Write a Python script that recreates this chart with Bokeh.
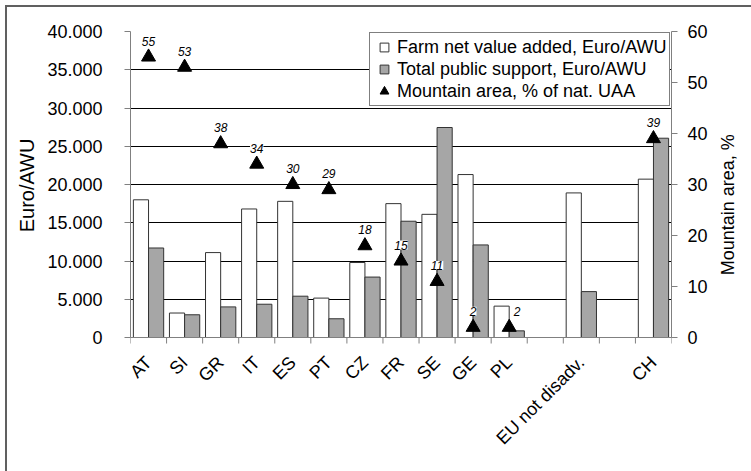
import math
from bokeh.plotting import figure
from bokeh.models import (ColumnDataSource, Range1d, LinearAxis, FixedTicker, Legend, LegendItem,
                          LabelSet, Span)
from bokeh.core.properties import value
from bokeh.transform import dodge
from bokeh.embed import file_html
from bokeh.resources import INLINE

# ---------------- data ----------------
categories = ["AT", "SI", "GR", "IT", "ES", "PT", "CZ", "FR", "SE", "GE", "PL", "",
              "EU not disadv.", "", "CH"]
farm_nva = [18000, 3200, 11100, 16800, 17800, 5150, 9800, 17500, 16100, 21300, 4100, None,
            18900, None, 20700]
public_support = [11700, 2970, 4000, 4350, 5400, 2450, 7900, 15200, 27450, 12100, 870, None,
                  6000, None, 26050]
mountain_share = [55, 53, 38, 34, 30, 29, 18, 15, 11, 2, 2, None, None, None, 39]

left_ticks = [0, 5000, 10000, 15000, 20000, 25000, 30000, 35000, 40000]
left_tick_labels = ["0", "5.000", "10.000", "15.000", "20.000", "25.000", "30.000", "35.000", "40.000"]
right_ticks = [0, 10, 20, 30, 40, 50, 60]

series_names = ["Farm net value added, Euro/AWU", "Total public support, Euro/AWU",
                "Mountain area, % of nat. UAA"]
left_title = "Euro/AWU"
right_title = "Mountain area, %"

# ---------------- styling / geometry ----------------
FONT = "Liberation Sans"
GREY_FILL = "#a6a6a6"
AXIS_GREY = "#808080"
EDGE = "#333333"
TXT = "black"
W, H = 751, 471
BORDER_L, BORDER_R, BORDER_T, BORDER_B = 130, 75, 31, 5
PLOT_PX = 306                      # height of the value area (0 .. max)
LEFT_MAX, RIGHT_MAX = 40000, 60
below_px = H - BORDER_T - BORDER_B - PLOT_PX   # room under the zero line for the category labels
left_start = -below_px * LEFT_MAX / PLOT_PX
right_start = -below_px * RIGHT_MAX / PLOT_PX
TICK_PX = 6
LEFT_TITLE_END = 26000            # left-axis units where the left title ends (top)
RIGHT_TITLE_START = 12.2          # right-axis units where the right title begins (bottom)

n = len(categories)
pos = [i + 0.5 for i in range(n)]

bars = ColumnDataSource(dict(
    x=[p for p, v in zip(pos, farm_nva) if v is not None],
    nva=[v for v in farm_nva if v is not None],
    sup=[v for v in public_support if v is not None],
))
m_idx = [i for i, v in enumerate(mountain_share) if v is not None]
label_dx = [8 if categories[i] == "PL" else 0 for i in m_idx]
mount = ColumnDataSource(dict(
    x=[pos[i] for i in m_idx],
    y=[mountain_share[i] for i in m_idx],
    txt=[str(mountain_share[i]) for i in m_idx],
    dx=label_dx,
))
cats = ColumnDataSource(dict(x=pos, y=[0] * n, txt=categories))
bounds_src = ColumnDataSource(dict(x=list(range(n + 1))))

p = figure(width=W, height=H, output_backend="svg", toolbar_location=None,
           x_range=Range1d(0, n), y_range=Range1d(left_start, LEFT_MAX),
           min_border_left=BORDER_L, min_border_right=BORDER_R, min_border_top=BORDER_T,
           min_border_bottom=BORDER_B)
p.outline_line_color = None
p.background_fill_color = "white"
p.border_fill_color = None
# outer chart border (left and top edges), drawn as the element background behind the canvas
p.styles = {
    "background-color": "white",
    "background-image": "linear-gradient(#606060, #606060), linear-gradient(#606060, #606060)",
    "background-size": "2px 100%, 100% 2px",
    "background-position": "5px 5px, 5px 5px",
    "background-repeat": "no-repeat",
}
p.extra_y_ranges = {"mountain": Range1d(right_start, RIGHT_MAX)}

# grid
p.xgrid.visible = False
p.ygrid.ticker = FixedTicker(ticks=left_ticks)
p.ygrid.grid_line_color = "black"
p.ygrid.grid_line_width = 1

# category axis: baseline, boundary ticks, rotated labels
p.xaxis.visible = False
p.add_layout(Span(location=0, dimension="width", line_color=AXIS_GREY, line_width=1))
tick_len = TICK_PX * LEFT_MAX / PLOT_PX
p.segment(x0="x", y0=0, x1="x", y1=-tick_len, source=bounds_src, line_color=AXIS_GREY,
          line_width=1)

bw = 0.42
r_nva = p.vbar(x=dodge("x", -0.21, range=p.x_range), top="nva", width=bw, source=bars,
               fill_color="white", line_color=EDGE, line_width=1)
r_sup = p.vbar(x=dodge("x", 0.21, range=p.x_range), top="sup", width=bw, source=bars,
               fill_color=GREY_FILL, line_color=EDGE, line_width=1)
r_tri = p.scatter(x="x", y="y", source=mount, y_range_name="mountain", marker="triangle",
                  size=14, fill_color="black", line_color="black")

labels = LabelSet(x="x", y="y", text="txt", source=mount, y_range_name="mountain",
                  x_offset="dx", y_offset=16, text_align="center", text_baseline="middle",
                  text_font=value(FONT), text_font_size="12px", text_font_style="italic",
                  text_color=TXT, background_fill_color="white")
p.add_layout(labels)

cat_labels = LabelSet(x="x", y="y", text="txt", source=cats, y_offset=-22, angle=math.pi / 4,
                      text_align="right", text_baseline="middle", text_font=value(FONT),
                      text_font_size="18px", text_color=TXT)
p.add_layout(cat_labels)

# left value axis
ya = p.yaxis[0]
ya.bounds = (0, LEFT_MAX)
ya.ticker = FixedTicker(ticks=left_ticks)
ya.major_label_overrides = {t: l for t, l in zip(left_ticks, left_tick_labels)}
ya.major_tick_out = TICK_PX
ya.major_tick_in = 0
ya.minor_tick_line_color = None
ya.axis_line_color = AXIS_GREY
ya.major_tick_line_color = AXIS_GREY
ya.major_label_text_font = FONT
ya.major_label_text_font_size = "18px"
ya.major_label_text_color = TXT
ya.major_label_standoff = 22

# left title, reading bottom-to-top
lt = LinearAxis(ticker=FixedTicker(ticks=[LEFT_TITLE_END]))
lt.major_label_overrides = {LEFT_TITLE_END: left_title}
lt.major_label_orientation = math.pi / 2
lt.major_tick_out = 0
lt.major_tick_in = 0
lt.minor_tick_line_color = None
lt.major_tick_line_color = None
lt.axis_line_color = None
lt.major_label_text_font = FONT
lt.major_label_text_font_size = "20px"
lt.major_label_text_color = TXT
lt.major_label_standoff = 17
p.add_layout(lt, "left")

# right value axis
ra = LinearAxis(y_range_name="mountain", ticker=FixedTicker(ticks=right_ticks), bounds=(0, RIGHT_MAX))
ra.major_tick_out = TICK_PX
ra.major_tick_in = 0
ra.minor_tick_line_color = None
ra.axis_line_color = AXIS_GREY
ra.major_tick_line_color = AXIS_GREY
ra.major_label_text_font = FONT
ra.major_label_text_font_size = "18px"
ra.major_label_text_color = TXT
ra.major_label_standoff = 10
p.add_layout(ra, "right")

# right title, reading bottom-to-top
rt = LinearAxis(y_range_name="mountain", ticker=FixedTicker(ticks=[RIGHT_TITLE_START]))
rt.major_label_overrides = {RIGHT_TITLE_START: right_title}
rt.major_label_orientation = math.pi / 2
rt.major_tick_out = 0
rt.major_tick_in = 0
rt.minor_tick_line_color = None
rt.major_tick_line_color = None
rt.axis_line_color = None
rt.major_label_text_font = FONT
rt.major_label_text_font_size = "18px"
rt.major_label_text_color = TXT
rt.major_label_standoff = 18
p.add_layout(rt, "right")

# legend with square-marker proxies
nan = float("nan")
lg_nva = p.scatter(x="x", y="y", source=ColumnDataSource(dict(x=[nan], y=[nan])), marker="square",
                   fill_color="white", line_color=EDGE)
lg_sup = p.scatter(x="x", y="y", source=ColumnDataSource(dict(x=[nan], y=[nan])), marker="square",
                   fill_color=GREY_FILL, line_color=EDGE)
legend = Legend(items=[LegendItem(label=series_names[0], renderers=[lg_nva]),
                       LegendItem(label=series_names[1], renderers=[lg_sup]),
                       LegendItem(label=series_names[2], renderers=[r_tri])],
                location=(239, 360), padding=3, spacing=0, glyph_width=22, glyph_height=22,
                label_height=22, label_standoff=2, label_text_font=FONT,
                label_text_font_size="18px", label_text_color=TXT,
                border_line_color="black", border_line_width=1,
                background_fill_color="white", background_fill_alpha=1.0, margin=0)
p.add_layout(legend)

open("out.html", "w").write(file_html(p, INLINE))
